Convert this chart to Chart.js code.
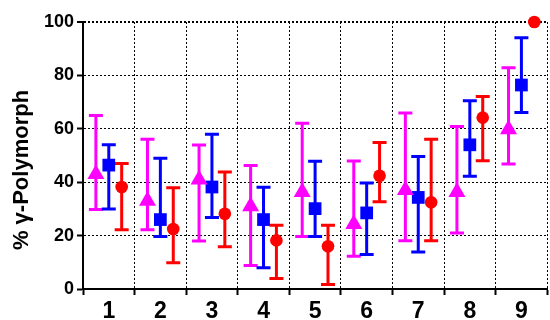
<!DOCTYPE html>
<html lang="pt-br">

<head>
    <meta charset="UTF-8">
    <title>Polimorfo</title>
    <script src="https://cdn.jsdelivr.net/npm/chart.js"></script>
    <style>
        html,
        body {
            margin: 0;
            padding: 0;
            overflow: hidden;
            background: white;
        }

        .caixa {
            width: 557px;
            height: 320px;
        }
    </style>
</head>

<body>
    <div class="caixa">
        <canvas id="grafico"></canvas>
    </div>
</body>

</html>
<script>
    // amostras no eixo x
    var amostras = ['1', '2', '3', '4', '5', '6', '7', '8', '9'];
    var ticksY = [0, 20, 40, 60, 80, 100];

    // serie rosa (triangulo)
    var mediaRosa = [43, 33, 41, 31, 36.3, 24.3, 37, 36.3, 59.8];
    var baixoRosa = [29.8, 22.2, 18, 8.8, 19.7, 12.3, 18.1, 21, 46.8];
    var altoRosa = [65, 56.1, 53.9, 46.3, 62.1, 47.9, 65.9, 60.9, 82.9];

    // serie azul (quadrado)
    var mediaAzul = [46.4, 26, 38.2, 26, 30.1, 28.5, 34.3, 54, 76.4];
    var baixoAzul = [30, 19.7, 26.8, 8, 19.7, 12.9, 13.9, 42.2, 66.1];
    var altoAzul = [54, 49, 58, 38.1, 47.8, 39.7, 49.6, 70.5, 94.1];

    // serie vermelha (circulo) - a 9 nao tem barra de erro
    var mediaVerm = [38.2, 22.5, 28.2, 18.2, 16, 42.4, 32.5, 64.2, 100];
    var baixoVerm = [22.2, 9.8, 15.8, 3.9, 1.7, 32.7, 18.1, 48, null];
    var altoVerm = [47, 37.9, 43.8, 23.9, 23.9, 54.9, 56.1, 72.1, null];

    var fonte = "'Liberation Sans', Arial, sans-serif";

    function montarPontos(medias, desvio) {
        var pontos = [];
        for (var i = 0; i < medias.length; i++) {
            pontos.push({ x: i + 1 + desvio, y: medias[i] });
        }
        return pontos;
    }

    function serie(nome, cor, medias, baixo, alto, desvio, estilo, raio) {
        return {
            label: nome,
            data: montarPontos(medias, desvio),
            baixo: baixo,
            alto: alto,
            xAxisID: 'xv',
            showLine: false,
            clip: false,
            pointStyle: estilo,
            pointRadius: raio,
            pointHoverRadius: raio,
            pointBorderWidth: 0,
            pointBackgroundColor: cor,
            borderColor: cor,
            backgroundColor: cor
        };
    }

    // barras de erro desenhadas antes dos marcadores
    var barrasErro = {
        id: 'barrasErro',
        beforeDatasetsDraw: function (chart) {
            var ctx = chart.ctx;
            var y = chart.scales.y;
            chart.data.datasets.forEach(function (ds, i) {
                var meta = chart.getDatasetMeta(i);
                meta.data.forEach(function (ponto, j) {
                    if (ds.baixo[j] == null || ds.alto[j] == null) return;
                    var y1 = y.getPixelForValue(ds.alto[j]);
                    var y2 = y.getPixelForValue(ds.baixo[j]);
                    ctx.save();
                    ctx.strokeStyle = ds.borderColor;
                    ctx.lineWidth = 3;
                    ctx.beginPath();
                    ctx.moveTo(ponto.x, y1);
                    ctx.lineTo(ponto.x, y2);
                    ctx.moveTo(ponto.x - 7, y1);
                    ctx.lineTo(ponto.x + 7, y1);
                    ctx.moveTo(ponto.x - 7, y2);
                    ctx.lineTo(ponto.x + 7, y2);
                    ctx.stroke();
                    ctx.restore();
                });
            });
        }
    };

    // titulo do eixo y
    var tituloY = {
        id: 'tituloY',
        afterDraw: function (chart) {
            var ctx = chart.ctx;
            ctx.save();
            ctx.translate(22, 170);
            ctx.rotate(-Math.PI / 2);
            ctx.font = 'bold 22px ' + fonte;
            ctx.fillStyle = '#000';
            ctx.textAlign = 'center';
            ctx.textBaseline = 'middle';
            ctx.fillText('% \u03b3-Polymorph', 0, 0);
            ctx.restore();
        }
    };

    const config = {
        type: 'line',
        data: {
            labels: amostras,
            datasets: [
                serie('Rosa', '#ff00ff', mediaRosa, baixoRosa, altoRosa, -0.25, 'triangle', 9.8),
                serie('Azul', '#0000ff', mediaAzul, baixoAzul, altoAzul, 0, 'rect', 9),
                serie('Vermelho', '#ff0000', mediaVerm, baixoVerm, altoVerm, 0.25, 'circle', 6.3)
            ]
        },
        options: {
            responsive: true,
            maintainAspectRatio: false,
            animation: false,
            layout: { padding: { top: 22, left: 0, right: 0, bottom: 0 } },
            plugins: {
                legend: { display: false },
                tooltip: { enabled: false }
            },
            scales: {
                x: {
                    type: 'category',
                    offset: true,
                    afterFit: function (eixo) { eixo.height = 31; },
                    grid: {
                        offset: true,
                        color: '#000',
                        lineWidth: 1,
                        tickLength: 6,
                        tickWidth: 2,
                        tickColor: '#000'
                    },
                    border: { display: true, color: '#000', width: 2, dash: [2, 2] },
                    ticks: {
                        color: '#000',
                        padding: 3,
                        font: { family: fonte, size: 23, weight: 'bold' }
                    }
                },
                xv: {
                    type: 'linear',
                    display: false,
                    min: 0.5,
                    max: 9.5
                },
                y: {
                    min: 0,
                    max: 100,
                    afterFit: function (eixo) { eixo.width = 83; },
                    afterBuildTicks: function (eixo) {
                        eixo.ticks = ticksY.map(function (v) { return { value: v }; });
                    },
                    grid: {
                        color: '#000',
                        lineWidth: function (c) { return c.tick && c.tick.value === 100 ? 2 : 1; },
                        tickLength: 6,
                        tickWidth: 2,
                        tickColor: '#000'
                    },
                    border: { display: true, color: '#000', width: 2, dash: [2, 2] },
                    ticks: {
                        color: '#000',
                        padding: 3,
                        font: { family: fonte, size: 18, weight: 'bold' }
                    }
                }
            }
        },
        plugins: [barrasErro, tituloY]
    };

    const grafico = new Chart(document.getElementById('grafico'), config);
</script>
